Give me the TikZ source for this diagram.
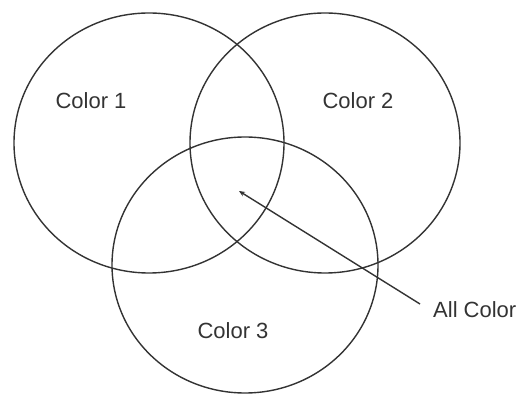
\documentclass[tikz,border=0pt]{standalone}
\usepackage{fontspec}
\setmainfont{Liberation Sans}
\usetikzlibrary{arrows.meta}
\definecolor{ink}{HTML}{333333}
\tikzset{
  ring/.style={draw=ink, line width=1.4pt},
  lbl/.style={text=ink, font=\fontsize{22}{26}\selectfont, inner sep=0pt},
  pointer/.style={draw=ink, line width=1.4pt, -{Stealth[length=6pt,width=5pt]}}
}
\begin{document}
\begin{tikzpicture}[x=1pt,y=1pt]
\useasboundingbox (0,0) rectangle (530,396);
\draw[ring] (149,253) ellipse [x radius=135, y radius=130];
\draw[ring] (325,253) ellipse [x radius=135, y radius=130];
\draw[ring] (245,131) ellipse [x radius=133, y radius=128];
\node[lbl] (c1) at (91,295) {Color 1};
\node[lbl] (c2) at (358,295) {Color 2};
\node[lbl] (c3) at (233,65) {Color 3};
\node[lbl, anchor=west] (all) at (433,86) {All Color};
\coordinate (center) at (239,205);
\coordinate (tail) at (420,92);
\draw[pointer] (tail) -- (center);
\end{tikzpicture}
\end{document}
